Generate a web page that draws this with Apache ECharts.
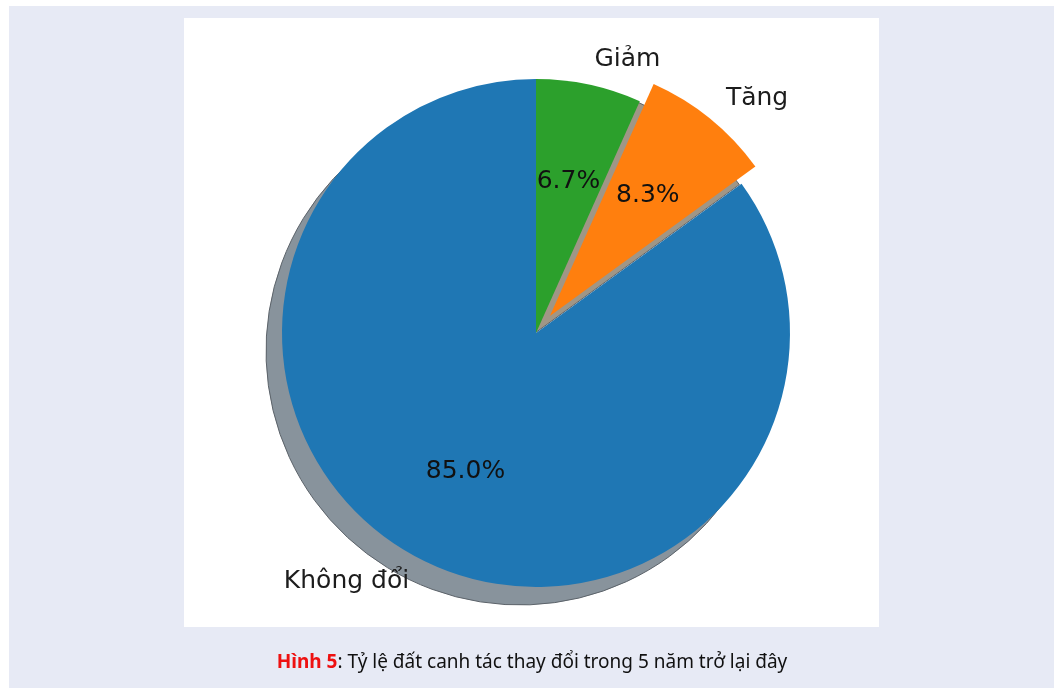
<!DOCTYPE html>
<html>
<head>
<meta charset="utf-8">
<script src="https://cdn.jsdelivr.net/npm/echarts@6/dist/echarts.min.js"></script>
<style>
  html, body { margin: 0; padding: 0; background: #ffffff; }
  #chart { width: 1059px; height: 688px; }
</style>
</head>
<body>
<div id="chart"></div>
<script>
// Land-use change shares over the last five years
const categories = ['Giảm', 'Tăng', 'Không đổi'];
const shares = [6.7, 8.3, 85.0];
const sliceColors = ['#2ca02c', '#ff7f0e', '#1f77b4'];
const shadowColors = ['#8b978b', '#a09686', '#88939c'];
const explodedName = 'Tăng';
const captionLead = 'Hình 5';
const captionText = ': Tỷ lệ đất canh tác thay đổi trong 5 năm trở lại đây';

// geometry of the pie
const CX = 536, CY = 333, R = 254;
const EXPLODE = 22;
const SHADOW_DX = -16, SHADOW_DY = 18;

function buildItems(colors) {
  return categories.map((name, i) => ({
    name: name,
    value: shares[i],
    selected: name === explodedName,
    itemStyle: { color: colors ? colors[i] : 'rgba(0,0,0,0)' }
  }));
}

const pieBase = {
  type: 'pie',
  startAngle: 90,
  clockwise: true,
  selectedMode: 'multiple',
  selectedOffset: EXPLODE,
  avoidLabelOverlap: false,
  animation: false,
  silent: true,
  emphasis: { disabled: true },
  minAngle: 0
};

const chart = echarts.init(document.getElementById('chart'), null, { renderer: 'canvas' });

chart.setOption({
  backgroundColor: '#ffffff',
  animation: false,
  graphic: [
    { type: 'rect', z: -10, shape: { x: 9, y: 6, width: 1045, height: 682 }, style: { fill: '#e7eaf5' }, silent: true },
    { type: 'rect', z: -9, shape: { x: 184, y: 18, width: 695, height: 609 }, style: { fill: '#ffffff' }, silent: true },
    {
      type: 'text', z: 10, x: 532, y: 663, silent: true,
      style: {
        text: '{lead|' + captionLead + '}{rest|' + captionText + '}',
        align: 'center', verticalAlign: 'middle',
        rich: {
          lead: { fontFamily: 'Noto Sans', fontSize: 19, fontWeight: 'bold', fill: '#ee1111' },
          rest: { fontFamily: 'Noto Sans', fontSize: 19, fill: '#111111' }
        }
      }
    }
  ],
  series: [
    // drop shadow under the slices
    Object.assign({}, pieBase, {
      name: 'shadow',
      z: 1,
      center: [CX + SHADOW_DX, CY + SHADOW_DY],
      radius: R,
      label: { show: false },
      labelLine: { show: false },
      itemStyle: { borderColor: '#5c636a', borderWidth: 1 },
      data: buildItems(shadowColors)
    }),
    // the slices with their category names outside
    Object.assign({}, pieBase, {
      name: 'slices',
      z: 2,
      center: [CX, CY],
      radius: R,
      label: {
        show: true,
        position: 'outside',
        formatter: '{b}',
        fontFamily: 'DejaVu Sans',
        fontSize: 25,
        color: '#1c1c1c',
        distanceToLabelLine: 0,
        alignTo: 'none'
      },
      labelLine: { show: false, length: R * 0.1, length2: 0 },
      data: buildItems(sliceColors)
    }),
    // percentage labels at 0.6 of the radius
    Object.assign({}, pieBase, {
      name: 'percent',
      z: 3,
      center: [CX, CY],
      radius: R * 1.2,
      label: {
        show: true,
        position: 'inside',
        formatter: p => p.value.toFixed(1) + '%',
        fontFamily: 'DejaVu Sans',
        fontSize: 25,
        color: '#111111'
      },
      labelLine: { show: false },
      data: buildItems(null)
    })
  ]
});
</script>
</body>
</html>
